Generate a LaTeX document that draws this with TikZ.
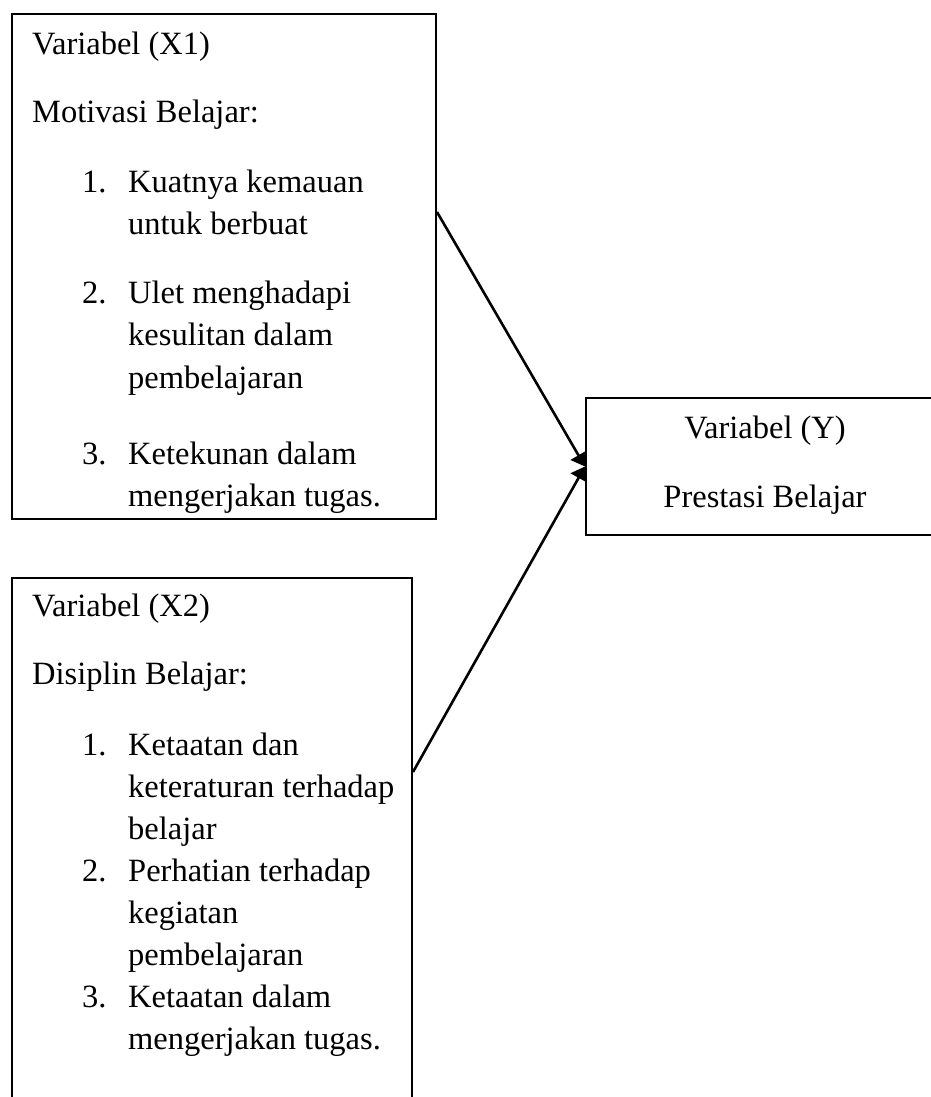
\documentclass[tikz,border=0pt]{standalone}
\usepackage{fontspec}
\setmainfont{Liberation Serif}
\usetikzlibrary{arrows.meta}
\begin{document}
\begin{tikzpicture}[x=1pt,y=-1pt,
  box/.style={draw, line width=2pt, rectangle, inner sep=0pt, anchor=north west},
  txt/.style={anchor=base west, inner sep=0pt, font=\fontsize{32.5}{38}\selectfont},
  ctxt/.style={anchor=base, inner sep=0pt, font=\fontsize{32.5}{38}\selectfont},
  arr/.style={line width=2.6pt, -{Triangle[length=13pt,width=18pt]}}]
\useasboundingbox (0,0) rectangle (931,1097);
\clip (0,0) rectangle (931,1097);
% boxes
\node[box, minimum width=424pt, minimum height=505pt] (x1) at (11,13) {};
\node[box, minimum width=400pt, minimum height=560pt] (x2) at (11,577) {};
\node[box, minimum width=360pt, minimum height=137pt] (y) at (585,397) {};
% box X1 text
\node[txt] (x1a) at (32,55) {Variabel (X1)};
\node[txt] (x1b) at (32,123) {Motivasi Belajar:};
\node[txt] (x1n1) at (82,192) {1.};
\node[txt] (x1i1a) at (128,192) {Kuatnya kemauan};
\node[txt] (x1i1b) at (128,234) {untuk berbuat};
\node[txt] (x1n2) at (82,303) {2.};
\node[txt] (x1i2a) at (128,303) {Ulet menghadapi};
\node[txt] (x1i2b) at (128,345) {kesulitan dalam};
\node[txt] (x1i2c) at (128,388) {pembelajaran};
\node[txt] (x1n3) at (82,464) {3.};
\node[txt] (x1i3a) at (128,464) {Ketekunan dalam};
\node[txt] (x1i3b) at (128,506) {mengerjakan tugas.};
% box X2 text
\node[txt] (x2a) at (32,616) {Variabel (X2)};
\node[txt] (x2b) at (32,684) {Disiplin Belajar:};
\node[txt] (x2n1) at (82,755) {1.};
\node[txt] (x2i1a) at (128,755) {Ketaatan dan};
\node[txt] (x2i1b) at (128,797) {keteraturan terhadap};
\node[txt] (x2i1c) at (128,839) {belajar};
\node[txt] (x2n2) at (82,881) {2.};
\node[txt] (x2i2a) at (128,881) {Perhatian terhadap};
\node[txt] (x2i2b) at (128,923) {kegiatan};
\node[txt] (x2i2c) at (128,965) {pembelajaran};
\node[txt] (x2n3) at (82,1007) {3.};
\node[txt] (x2i3a) at (128,1007) {Ketaatan dalam};
\node[txt] (x2i3b) at (128,1049) {mengerjakan tugas.};
% box Y text
\node[ctxt] (ya) at (765,438) {Variabel (Y)};
\node[ctxt] (yb) at (765,507) {Prestasi Belajar};
% connectors
\draw[arr] ([yshift=-199pt]x1.north east) -- (y.west);
\draw[arr] ([yshift=-195pt]x2.north east) -- (y.west);
\end{tikzpicture}
\end{document}
